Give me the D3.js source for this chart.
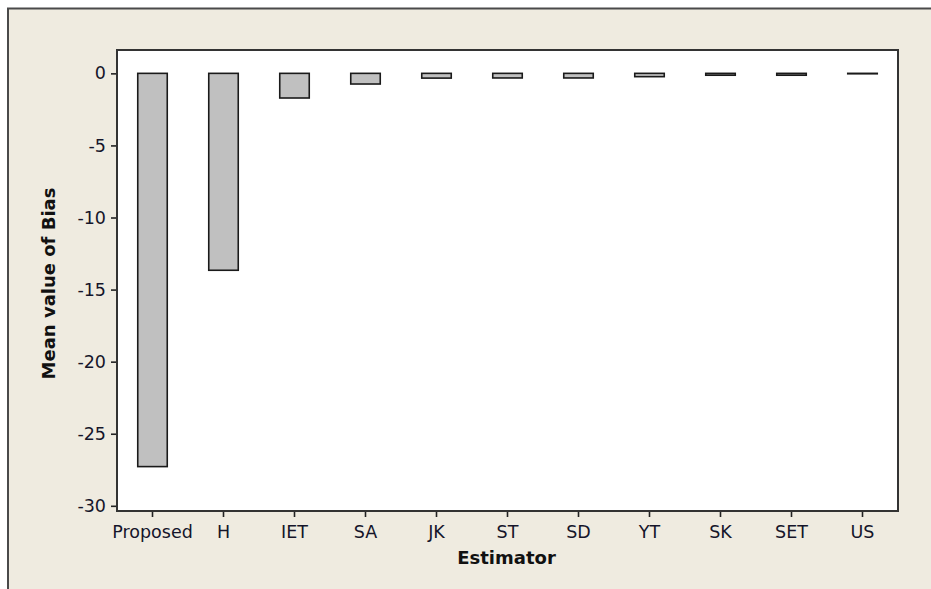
<!DOCTYPE html>
<html>
<head>
<meta charset="utf-8">
<script src="https://cdn.jsdelivr.net/npm/d3@7"></script>
<style>
  html, body { margin: 0; padding: 0; background: #ffffff; }
  svg { display: block; }
</style>
</head>
<body>
<svg id="chart" width="931" height="589"></svg>
<script>
const categories = ["Proposed", "H", "IET", "SA", "JK", "ST", "SD", "YT", "SK", "SET", "US"];
const biasValues = [-27.28, -13.66, -1.71, -0.74, -0.33, -0.32, -0.32, -0.23, -0.13, -0.13, -0.03];
const yTickValues = [0, -5, -10, -15, -20, -25, -30];
const yDomain = [-30.36, 1.62];
const xTitle = "Estimator";
const yTitle = "Mean value of Bias";

const svg = d3.select("#chart");
const W = 931, H = 589;
const plot = { left: 117, top: 50, right: 898, bottom: 511 };
const font = "'DejaVu Sans', Verdana, sans-serif";

// outer frame
svg.append("rect").attr("x", 8).attr("y", 8).attr("width", W - 8).attr("height", H - 8)
  .attr("fill", "#efebe0");
svg.append("path").attr("d", `M8,${H} V8.5 H${W}`)
  .attr("fill", "none").attr("stroke", "#4a4a4a").attr("stroke-width", 2);

// plot background
svg.append("rect")
  .attr("x", plot.left).attr("y", plot.top)
  .attr("width", plot.right - plot.left).attr("height", plot.bottom - plot.top)
  .attr("fill", "#ffffff");

const x = d3.scaleBand().domain(categories).range([plot.left, plot.right]).padding(0);
const y = d3.scaleLinear().domain(yDomain).range([plot.bottom, plot.top]);
const barW = 29.5;

// bars
svg.append("g").selectAll("rect").data(categories).join("rect")
  .attr("x", d => x(d) + x.bandwidth() / 2 - barW / 2)
  .attr("width", barW)
  .attr("y", (d, i) => y(Math.max(0, biasValues[i])))
  .attr("height", (d, i) => Math.abs(y(biasValues[i]) - y(0)))
  .attr("fill", "#c0c0c0")
  .attr("stroke", "#1a1a1a")
  .attr("stroke-width", 1.6);

// y axis
const yAxis = svg.append("g").attr("transform", `translate(${plot.left},0)`)
  .call(d3.axisLeft(y).tickValues(yTickValues).tickSize(6).tickPadding(5).tickFormat(d3.format("d")));
yAxis.select(".domain").remove();
yAxis.selectAll(".tick line").attr("stroke", "#222").attr("stroke-width", 1.6);
yAxis.selectAll(".tick text").attr("fill", "#15152a").style("font-family", font).style("font-size", "17.5px")
  .text(d => d < 0 ? "-" + Math.abs(d) : d);

// x axis
const xAxis = svg.append("g").attr("transform", `translate(0,${plot.bottom})`)
  .call(d3.axisBottom(x).tickSize(6).tickPadding(9));
xAxis.select(".domain").remove();
xAxis.selectAll(".tick line").attr("stroke", "#222").attr("stroke-width", 1.6);
xAxis.selectAll(".tick text").attr("fill", "#15152a").style("font-family", font).style("font-size", "17.5px");

// plot frame
svg.append("rect")
  .attr("x", plot.left).attr("y", plot.top)
  .attr("width", plot.right - plot.left).attr("height", plot.bottom - plot.top)
  .attr("fill", "none").attr("stroke", "#333").attr("stroke-width", 2);

// titles
svg.append("text").attr("x", (plot.left + plot.right) / 2 - 1).attr("y", 564)
  .attr("text-anchor", "middle").style("font-family", font).style("font-size", "18px")
  .style("font-weight", "bold").attr("fill", "#111").text(xTitle);
svg.append("text").attr("transform", `translate(55,${(plot.top + plot.bottom) / 2 + 3}) rotate(-90)`)
  .attr("text-anchor", "middle").style("font-family", font).style("font-size", "18px")
  .style("font-weight", "bold").attr("fill", "#111").text(yTitle);
</script>
</body>
</html>
